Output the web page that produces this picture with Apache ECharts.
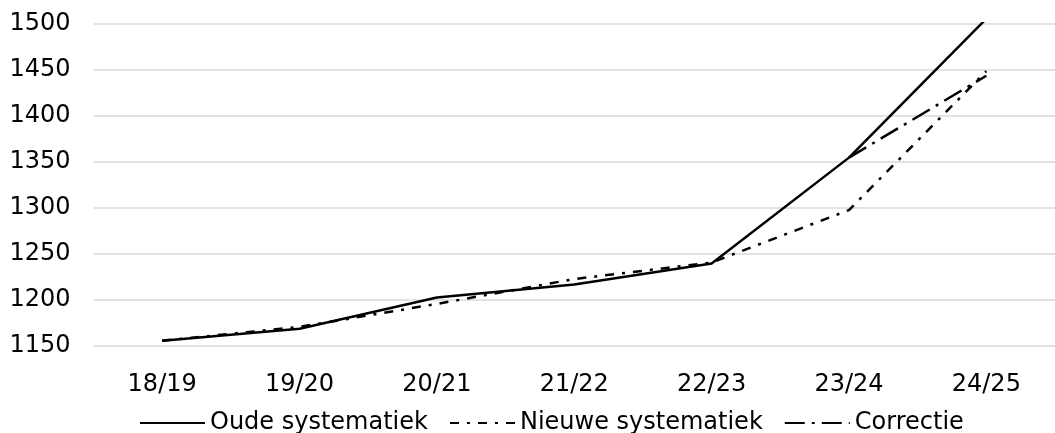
<!DOCTYPE html>
<html>
<head>
<meta charset="utf-8">
<script src="https://cdn.jsdelivr.net/npm/echarts@6/dist/echarts.min.js"></script>
<style>
html,body{margin:0;padding:0;background:#fff;}
#chart{width:1055px;height:433px;}
</style>
</head>
<body>
<div id="chart"></div>
<script>
var categories = ['18/19','19/20','20/21','21/22','22/23','23/24','24/25'];
var oudeSystematiek = [1155, 1168, 1202, 1216, 1239, 1354, 1505];
var nieuweSystematiek = [1155, 1170, 1195, 1222, 1240, 1297, 1448];
var correctie = [null, null, null, null, null, 1354, 1443];
var yTicks = { min: 1150, max: 1500, interval: 50 };

var font = 'DejaVu Sans';
var chart = echarts.init(document.getElementById('chart'), null, {renderer: 'canvas'});
chart.setOption({
  animation: false,
  backgroundColor: '#ffffff',
  textStyle: { fontFamily: font },
  grid: { left: 93.5, top: 23.3, width: 971.6, height: 322, containLabel: false },
  legend: {
    left: 134, top: 406,
    itemWidth: 65, itemHeight: 14, itemGap: 21,
    itemStyle: { color: 'rgba(0,0,0,0)', borderWidth: 0, opacity: 0 },
    textStyle: { fontFamily: font, fontSize: 24, color: '#000' },
    data: ['Oude systematiek', 'Nieuwe systematiek', 'Correctie']
  },
  xAxis: {
    type: 'category',
    data: categories,
    boundaryGap: true,
    axisLine: { show: false },
    axisTick: { show: false },
    axisLabel: { fontFamily: font, fontSize: 24, color: '#000', margin: 27 }
  },
  yAxis: {
    type: 'value',
    min: yTicks.min, max: yTicks.max, interval: yTicks.interval,
    axisLine: { show: false },
    axisTick: { show: false },
    axisLabel: { fontFamily: font, fontSize: 24, color: '#000', margin: 23,
      formatter: function (v) { return String(v); } },
    splitLine: { lineStyle: { color: '#d9d9d9', width: 1.5 } }
  },
  series: [
    {
      name: 'Oude systematiek', type: 'line', data: oudeSystematiek,
      symbol: 'none', z: 3,
      lineStyle: { color: '#000', width: 2.5, type: 'solid' },
      itemStyle: { color: '#000' }
    },
    {
      name: 'Nieuwe systematiek', type: 'line', data: nieuweSystematiek,
      symbol: 'none', z: 2,
      lineStyle: { color: '#000', width: 2.5, type: [9, 8, 3, 8] },
      itemStyle: { color: '#000' }
    },
    {
      name: 'Correctie', type: 'line', data: correctie,
      symbol: 'none', z: 2, connectNulls: false,
      lineStyle: { color: '#000', width: 2.5, type: [20, 7, 3, 7] },
      itemStyle: { color: '#000' }
    }
  ]
});
</script>
</body>
</html>
